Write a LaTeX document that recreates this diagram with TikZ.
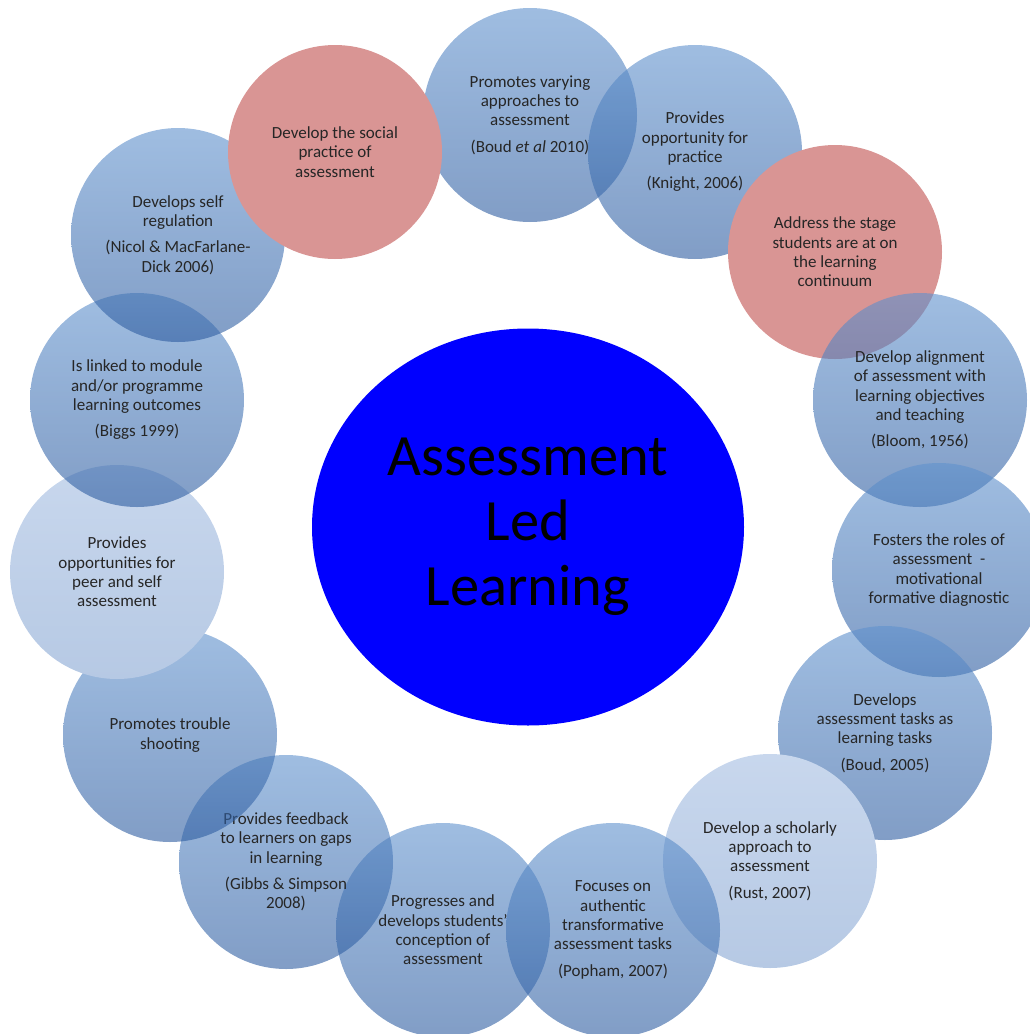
\documentclass[tikz,border=0pt]{standalone}
\usepackage{fontspec}
\setmainfont{Carlito}
\usetikzlibrary{shapes.geometric}
\definecolor{bt}{RGB}{95,145,205}
\definecolor{bb}{RGB}{45,92,160}
\definecolor{redc}{RGB}{217,149,148}
\definecolor{lt}{RGB}{200,215,237}
\definecolor{lb}{RGB}{182,201,228}
\definecolor{txt}{RGB}{38,38,38}
\definecolor{corec}{RGB}{0,0,255}
\newcommand\bubfont{\fontsize{17}{19.3}\selectfont}
\newcommand\corefont{\fontsize{58.5}{65}\selectfont}
\tikzset{
  bub/.style={circle, minimum size=214pt, inner sep=0pt, align=center, font=\bubfont, text=txt},
  bluebub/.style={bub, top color=bt, bottom color=bb, fill opacity=0.6, text opacity=1},
  redbub/.style={bub, fill=redc},
  lightbub/.style={bub, top color=lt, bottom color=lb},
  corenode/.style={ellipse, minimum width=432pt, minimum height=397pt, inner sep=0pt, fill=corec, align=center, font=\corefont, text=black}
}
\begin{document}
\begin{tikzpicture}[x=1pt,y=-1pt]
\useasboundingbox (0,0) rectangle (1030,1034);
\clip (0,0) rectangle (1030,1034);
\node[corenode] (core) at (528,527) {Assessment\\Led\\Learning};
\node[bluebub] (b1) at (530,115) {Promotes varying\\approaches to\\assessment\\[7pt](Boud \textit{et al} 2010)};
\node[bluebub] (b2) at (695,152) {Provides\\opportunity for\\practice\\[7pt](Knight, 2006)};
\node[redbub] (b3) at (835,252) {Address the stage\\students are at on\\the learning\\continuum};
\node[bluebub] (b4) at (920,400) {Develop alignment\\of assessment with\\learning objectives\\and teaching\\[7pt](Bloom, 1956)};
\node[bluebub] (b5) at (939,570) {Fosters the roles of\\assessment \ -\\motivational\\formative diagnostic};
\node[bluebub] (b6) at (885,733) {Develops\\assessment tasks as\\learning tasks\\[7pt](Boud, 2005)};
\node[lightbub] (b7) at (770,861) {Develop a scholarly\\approach to\\assessment\\[7pt](Rust, 2007)};
\node[bluebub] (b8) at (613,930) {Focuses on\\authentic\\transformative\\assessment tasks\\[7pt](Popham, 2007)};
\node[bluebub] (b9) at (443,930) {Progresses and\\develops students'\\conception of\\assessment};
\node[bluebub] (b10) at (286,862) {Provides feedback\\to learners on gaps\\in learning\\[7pt](Gibbs \& Simpson\\2008)};
\node[bluebub] (b11) at (170,735) {Promotes trouble\\shooting};
\node[lightbub] (b12) at (117,572) {Provides\\opportunities for\\peer and self\\assessment};
\node[bluebub] (b13) at (137,400) {Is linked to module\\and/or programme\\learning outcomes\\[7pt](Biggs 1999)};
\node[bluebub] (b14) at (178,235) {Develops self\\regulation\\[7pt](Nicol \& MacFarlane-\\Dick 2006)};
\node[redbub] (b15) at (335,152) {Develop the social\\practice of\\assessment};
\end{tikzpicture}
\end{document}
